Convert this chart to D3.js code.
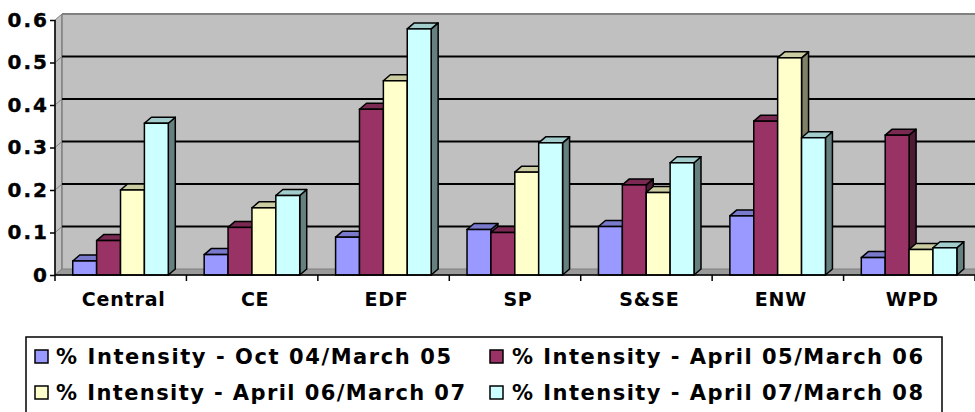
<!DOCTYPE html>
<html><head><meta charset="utf-8">
<script src="https://cdn.jsdelivr.net/npm/d3@7"></script>
<style>html,body{margin:0;padding:0;background:#fff;}svg{display:block;}</style>
</head><body>
<svg id="chart" width="975" height="412"></svg>
<script>
const categories = ["Central","CE","EDF","SP","S&SE","ENW","WPD"];
const seriesNames = [
  "% Intensity - Oct 04/March 05",
  "% Intensity - April 05/March 06",
  "% Intensity - April 06/March 07",
  "% Intensity - April 07/March 08"
];
const octMar05 = [0.033,0.048,0.089,0.107,0.114,0.139,0.041];
const aprMar06 = [0.081,0.112,0.390,0.100,0.212,0.362,0.329];
const aprMar07 = [0.200,0.158,0.457,0.242,0.194,0.511,0.060];
const aprMar08 = [0.357,0.187,0.579,0.311,0.264,0.323,0.064];
const yTicks = [0,0.1,0.2,0.3,0.4,0.5,0.6];
const colors = ["#9999FF","#993366","#FFFFCC","#CCFFFF"];

const seriesValues = [octMar05, aprMar06, aprMar07, aprMar08];
const svg = d3.select("#chart");
const W = 975;
const DX = 7, DY = -6;
const x0 = 55, x1 = 975, yBot = 275, yTop = 20;

const y = d3.scaleLinear().domain([0,0.6]).range([yBot,yTop]);
const xCat = d3.scaleBand().domain(categories).range([x0,x1]).padding(0);
const bw = xCat.bandwidth();
const xSer = d3.scaleBand().domain(seriesNames).range([bw*0.135, bw*0.862]).padding(0);
const sw = xSer.bandwidth();

const font = "'DejaVu Sans', Verdana, sans-serif";

// side wall (left)
svg.append("polygon")
  .attr("points", [[x0,y(0.6)],[x0+DX,y(0.6)+DY],[x0+DX,yBot+DY],[x0,yBot]].map(p=>p.join(",")).join(" "))
  .attr("fill","#C0C0C0").attr("stroke","#808080").attr("stroke-width",1);
// back wall
svg.append("rect")
  .attr("x", x0+DX).attr("y", y(0.6)+DY)
  .attr("width", W-(x0+DX)+5).attr("height", yBot - y(0.6))
  .attr("fill","#C0C0C0");
svg.append("line")
  .attr("x1", x0+DX).attr("x2", W).attr("y1", y(0.6)+DY).attr("y2", y(0.6)+DY)
  .attr("stroke","#808080").attr("stroke-width",2);
svg.append("line")
  .attr("x1", x0+DX).attr("x2", x0+DX).attr("y1", y(0.6)+DY).attr("y2", yBot+DY)
  .attr("stroke","#808080").attr("stroke-width",1.5);

// gridlines on back wall
svg.append("g").selectAll("line").data(yTicks.filter(d=>d>0 && d<0.6)).join("line")
  .attr("x1", x0+DX).attr("x2", W).attr("y1", d=>y(d)+DY).attr("y2", d=>y(d)+DY)
  .attr("stroke","#000").attr("stroke-width",2);
// gridline diagonals on side wall
svg.append("g").selectAll("line").data(yTicks.filter(d=>d>0 && d<0.6)).join("line")
  .attr("x1", x0).attr("x2", x0+DX).attr("y1", d=>y(d)).attr("y2", d=>y(d)+DY)
  .attr("stroke","#808080").attr("stroke-width",1);

// floor
svg.append("polygon")
  .attr("points", [[x0,yBot],[W+DX,yBot],[W+DX,yBot+DY],[x0+DX,yBot+DY]].map(p=>p.join(",")).join(" "))
  .attr("fill","#9A9A9A").attr("stroke","#808080").attr("stroke-width",1);

// bars
function shade(c,k){const r=d3.rgb(c);return d3.rgb(r.r*k,r.g*k,r.b*k).formatHex();}
const barData = [];
categories.forEach((c,ci)=>{
  seriesNames.forEach((s,si)=>{
    barData.push({cat:c, ser:s, si, v:seriesValues[si][ci]});
  });
});
const bars = svg.append("g").selectAll("g").data(barData).join("g");
bars.each(function(d){
  const g = d3.select(this);
  const xl = xCat(d.cat) + xSer(d.ser);
  const xr = xl + sw;
  const yt = y(d.v);
  const col = colors[d.si];
  g.append("polygon")
    .attr("points", [[xr,yt],[xr+DX,yt+DY],[xr+DX,yBot+DY],[xr,yBot]].map(p=>p.join(",")).join(" "))
    .attr("fill", shade(col,0.5)).attr("stroke","#000").attr("stroke-width",1.5).attr("stroke-linejoin","round");
  g.append("polygon")
    .attr("points", [[xl,yt],[xl+DX,yt+DY],[xr+DX,yt+DY],[xr,yt]].map(p=>p.join(",")).join(" "))
    .attr("fill", shade(col,0.8)).attr("stroke","#000").attr("stroke-width",1.5).attr("stroke-linejoin","round");
  g.append("rect")
    .attr("x", xl).attr("y", yt).attr("width", sw).attr("height", yBot-yt)
    .attr("fill", col).attr("stroke","#000").attr("stroke-width",1.5);
});

// value axis
svg.append("line").attr("x1",x0).attr("x2",x0).attr("y1",y(0.6)).attr("y2",yBot)
  .attr("stroke","#000").attr("stroke-width",1.5);
const yAxisG = svg.append("g").attr("transform",`translate(${x0},0)`)
  .call(d3.axisLeft(y).tickValues(yTicks).tickSize(5).tickPadding(3)
    .tickFormat(d => d===0 ? "0" : d3.format(".1f")(d)));
yAxisG.select(".domain").remove();
yAxisG.selectAll(".tick line").attr("stroke","#000").attr("stroke-width",1.5);
yAxisG.selectAll(".tick text").attr("font-family",font).attr("font-weight","bold")
  .attr("font-size",20).attr("fill","#000").attr("letter-spacing","2px").attr("dx","2")
  .attr("stroke","#000").attr("stroke-width",0.4);

// category axis
svg.append("line").attr("x1",x0).attr("x2",W).attr("y1",yBot).attr("y2",yBot)
  .attr("stroke","#000").attr("stroke-width",1.5);
const catTicks = categories.map(c=>xCat(c)).concat([x1]);
svg.append("g").selectAll("line").data(catTicks).join("line")
  .attr("x1",d=>d).attr("x2",d=>d).attr("y1",yBot).attr("y2",yBot+6)
  .attr("stroke","#000").attr("stroke-width",1.5);
svg.append("g").selectAll("text").data(categories).join("text")
  .attr("x", d=>xCat(d)+bw/2+3).attr("y", 306)
  .attr("text-anchor","middle").attr("font-family",font).attr("font-weight","bold")
  .attr("font-size",19).attr("letter-spacing","0.8px").text(d=>d);

// legend
const lg = svg.append("g");
lg.append("rect").attr("x",26).attr("y",337).attr("width",916).attr("height",90)
  .attr("fill","#fff").attr("stroke","#000").attr("stroke-width",1.5);
const legPos = [
  {sx:35, tx:56, by:364, len:395},
  {sx:490, tx:512, by:364, len:411},
  {sx:35, tx:56, by:400, len:409},
  {sx:490, tx:512, by:400, len:411}
];
seriesNames.forEach((s,i)=>{
  const p = legPos[i];
  lg.append("rect").attr("x",p.sx).attr("y",p.by-14).attr("width",13).attr("height",13)
    .attr("fill",colors[i]).attr("stroke","#000").attr("stroke-width",1.5);
  lg.append("text").attr("x",p.tx).attr("y",p.by)
    .attr("font-family",font).attr("font-weight","bold").attr("font-size",21)
    .attr("textLength",p.len).attr("lengthAdjust","spacing").text(s);
});
</script>
</body></html>
